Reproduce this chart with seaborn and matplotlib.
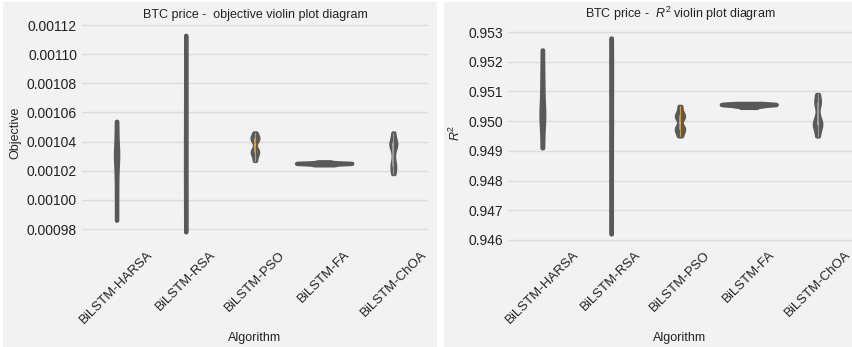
import pandas as pd
import numpy as np
import matplotlib.pyplot as plt
from matplotlib.patches import Rectangle
from matplotlib.ticker import FixedLocator, FormatStrFormatter
import seaborn as sns

algorithms = ["BiLSTM-HARSA", "BiLSTM-RSA", "BiLSTM-PSO", "BiLSTM-FA", "BiLSTM-ChOA"]

# objective values per run
obj_harsa = [0.000986, 0.000995, 0.001005, 0.001012, 0.001018, 0.001022, 0.001025, 0.001027,
             0.001029, 0.001030, 0.001031, 0.001032, 0.001033, 0.001035, 0.001037, 0.001040,
             0.001044, 0.001049, 0.001054]
obj_rsa = [0.000978, 0.000990, 0.001005, 0.001015, 0.001022, 0.001030, 0.001040, 0.001050,
           0.001065, 0.001080, 0.001095, 0.001113]
obj_pso = [0.001027, 0.001030, 0.001032, 0.001033, 0.001033, 0.001033, 0.001034, 0.001041,
           0.001042, 0.001042, 0.001042, 0.001043, 0.001044, 0.001046]
obj_fa = [0.0010240, 0.0010242, 0.0010245, 0.0010247, 0.0010248, 0.0010250, 0.0010250,
          0.0010251, 0.0010252, 0.0010253, 0.0010255, 0.0010258, 0.0010262]
obj_choa = [0.001018, 0.001021, 0.001023, 0.001023, 0.001025, 0.001036, 0.001037, 0.001038,
            0.001038, 0.001038, 0.001039, 0.001040, 0.001042, 0.001046]

# R^2 values per run
r2_harsa = [0.9491, 0.9495, 0.9498, 0.9500, 0.9501, 0.9502, 0.9503, 0.9504, 0.9506, 0.9508,
            0.9511, 0.9514, 0.9518, 0.9524]
r2_rsa = [0.9462, 0.9470, 0.9480, 0.9490, 0.9497, 0.9503, 0.9510, 0.9517, 0.9522, 0.9528]
r2_pso = [0.9495, 0.9496, 0.9497, 0.94975, 0.94975, 0.9498, 0.9501, 0.95015, 0.95015, 0.9502,
          0.9503, 0.9505]
r2_fa = [0.95046, 0.95050, 0.95052, 0.95054, 0.95055, 0.95056, 0.95057, 0.95058, 0.95060]
r2_choa = [0.9495, 0.9497, 0.9498, 0.9499, 0.9499, 0.9499, 0.9500, 0.9501, 0.9506, 0.9506,
           0.9507, 0.9509]

obj_ticks = [0.00098, 0.00100, 0.00102, 0.00104, 0.00106, 0.00108, 0.00110, 0.00112]
r2_ticks = [0.946, 0.947, 0.948, 0.949, 0.950, 0.951, 0.952, 0.953]


def long_df(cols, name):
    rows = []
    for alg, vals in zip(algorithms, cols):
        for v in vals:
            rows.append((alg, v))
    return pd.DataFrame(rows, columns=["Algorithm", name])


df_obj = long_df([obj_harsa, obj_rsa, obj_pso, obj_fa, obj_choa], "Objective")
df_r2 = long_df([r2_harsa, r2_rsa, r2_pso, r2_fa, r2_choa], "R2")

sns.set_style("white")
plt.rcParams["font.family"] = ["Liberation Sans", "DejaVu Sans"]
plt.rcParams["mathtext.fontset"] = "custom"
plt.rcParams["mathtext.it"] = "Liberation Sans:italic"
plt.rcParams["mathtext.rm"] = "Liberation Sans"

BG = "#f2f2f2"
VCOL = "#595959"

fig = plt.figure(figsize=(8.53, 3.47), dpi=100, facecolor="white")
fig.patches.extend([
    Rectangle((3 / 853, 0), 434 / 853, 345 / 347, transform=fig.transFigure,
              facecolor=BG, edgecolor="none", zorder=-10),
    Rectangle((444 / 853, 0), 408 / 853, 345 / 347, transform=fig.transFigure,
              facecolor=BG, edgecolor="none", zorder=-10),
])

ax1 = fig.add_axes([0.0961, 0.3026, 0.4056, 0.6282])
ax2 = fig.add_axes([0.5955, 0.3026, 0.4033, 0.6282])


def draw(ax, df, col, title, ylabel, ylim, ticks, fmt):
    ax.set_facecolor(BG)
    sns.violinplot(data=df, x="Algorithm", y=col, order=algorithms, color=VCOL, saturation=1,
                   linewidth=3, linecolor=VCOL, inner=None, cut=0, bw_adjust=0.55, ax=ax)
    # small inner boxes for PSO (orange) and ChOA (light grey)
    for alg, c in [("BiLSTM-PSO", "#d99a2b"), ("BiLSTM-ChOA", "#9a9a9a")]:
        sns.violinplot(data=df[df.Algorithm == alg], x="Algorithm", y=col, order=algorithms,
                       color=c, linecolor=c, fill=False, linewidth=0, inner="box",
                       inner_kws=dict(box_width=1.4, whis_width=0.8, color=c),
                       cut=0, bw_adjust=0.55, ax=ax)
    ax.set_ylim(*ylim)
    ax.set_xlim(-0.5, 4.5)
    ax.yaxis.set_major_locator(FixedLocator(ticks))
    ax.yaxis.set_major_formatter(FormatStrFormatter(fmt))
    ax.grid(axis="y", color="#dcdcdc", linewidth=1)
    ax.grid(axis="x", visible=False)
    ax.set_axisbelow(True)
    for s in ax.spines.values():
        s.set_visible(False)
    ax.tick_params(axis="y", length=0, labelsize=10, colors="#222222")
    ax.tick_params(axis="x", length=0, labelsize=9.5, colors="#222222", pad=5)
    ax.set_xticks(range(len(algorithms)))
    ax.set_xticklabels(algorithms, rotation=45, ha="center")
    ax.set_xlabel("Algorithm", fontsize=9, color="#222222")
    ax.set_ylabel(ylabel, fontsize=9, color="#222222")
    ax.set_title(title, fontsize=9, color="#222222", pad=4)


draw(ax1, df_obj, "Objective", "BTC price -  objective violin plot diagram", "Objective",
     (0.0009711, 0.0011207), obj_ticks, "%.5f")
draw(ax2, df_r2, "R2", "BTC price -  $R^2$ violin plot diagram", "$R^2$",
     (0.94593, 0.95327), r2_ticks, "%.3f")

fig.savefig("out.png", dpi=100, facecolor="white")
